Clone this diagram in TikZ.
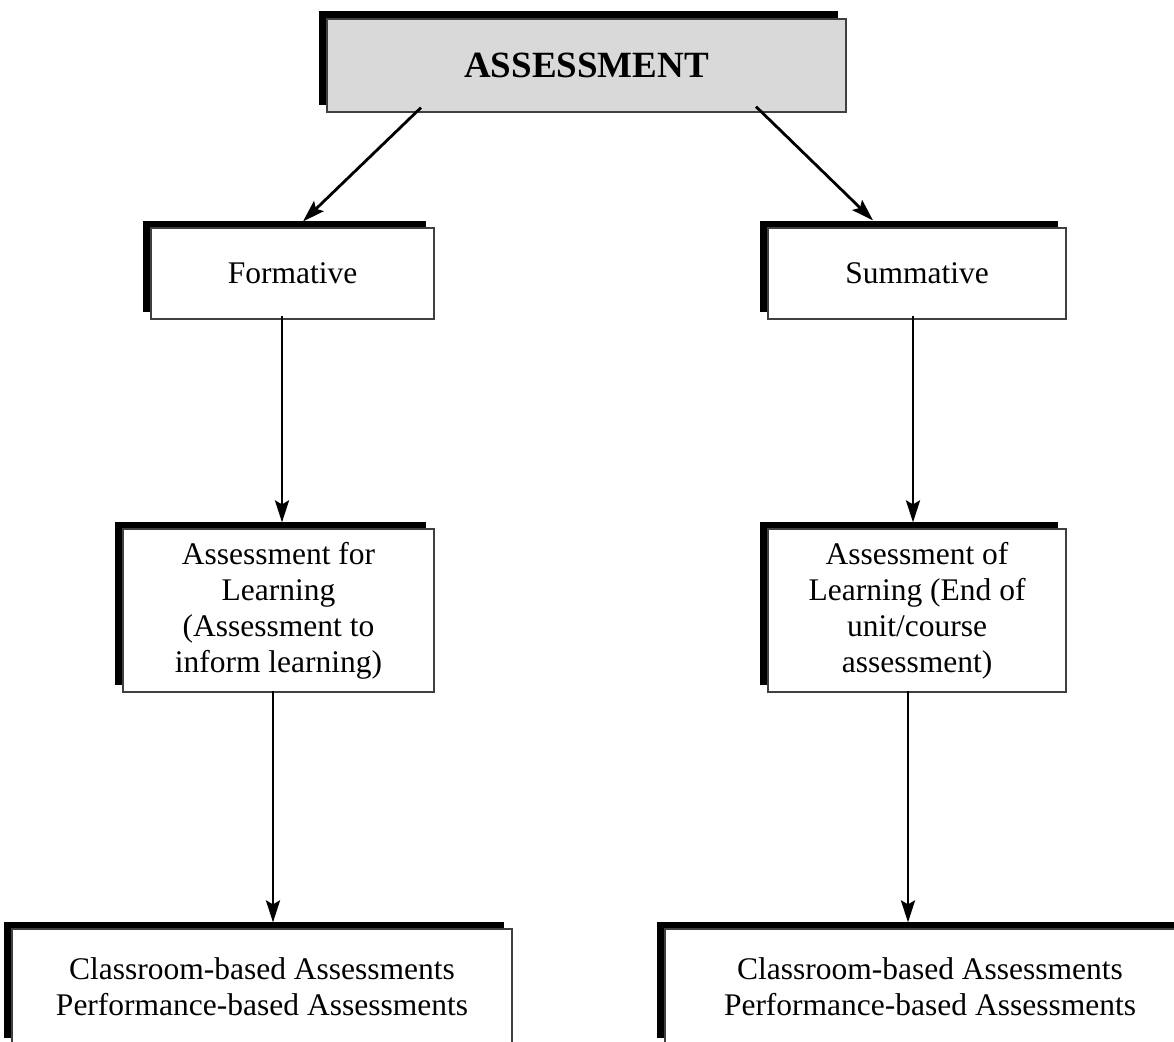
\documentclass[tikz,border=0pt]{standalone}
\usepackage{fontspec}
\setmainfont{Liberation Serif}
\usetikzlibrary{shadows,calc,arrows.meta}
\begin{document}
\begin{tikzpicture}[x=1pt,y=-1pt,
  box/.style={rectangle, draw=black!75, line width=1.2pt, fill=white, inner sep=0pt,
    align=center, font=\fontsize{31.5}{36}\selectfont,
    general shadow={fill=black, shadow xshift=-8pt, shadow yshift=7.5pt}},
  arr/.style={line width=2.8pt, -{Stealth[length=22pt,width=14pt,inset=4pt]}}]
\clip (0,0) rectangle (1174,1041);
\fill[white] (0,0) rectangle (1174,1041);
\node[box, fill=black!15, minimum width=519pt, minimum height=93pt, font=\fontsize{37}{44}\selectfont\bfseries] (top) at (586.5,65.5) {ASSESSMENT};
\node[box, minimum width=283pt, minimum height=91pt] (form) at (292.5,273.5) {Formative};
\node[box, minimum width=298pt, minimum height=91pt] (summ) at (917,273.5) {Summative};
\node[box, minimum width=311pt, minimum height=163pt] (afl) at (278.5,610.5) {Assessment for\\Learning\\(Assessment to\\inform learning)};
\node[box, minimum width=298pt, minimum height=163pt] (aol) at (917,610.5) {Assessment of\\Learning (End of\\unit/course\\assessment)};
\node[box, minimum width=500pt, minimum height=116pt] (cbl) at (262,987) {Classroom-based Assessments\\Performance-based Assessments};
\node[box, minimum width=530pt, minimum height=116pt] (cbr) at (930,987) {Classroom-based Assessments\\Performance-based Assessments};
\draw[arr] ($(top.south)+(-165.5,-5)$) -- ($(form.north)+(10.5,-6)$);
\draw[arr] ($(top.south)+(169.5,-6)$) -- ($(summ.north)+(-44,-7)$);
\draw[arr] ($(form.south)+(-10.5,-4)$) -- ($(afl.north)+(3.5,-6)$);
\draw[arr] ($(summ.south)+(-4,-4)$) -- ($(aol.north)+(-4,-6)$);
\draw[arr] ($(afl.south)+(-5.5,-2)$) -- ($(cbl.north)+(11,-6)$);
\draw[arr] ($(aol.south)+(-9,-2)$) -- ($(cbr.north)+(-22,-6)$);
\end{tikzpicture}
\end{document}
